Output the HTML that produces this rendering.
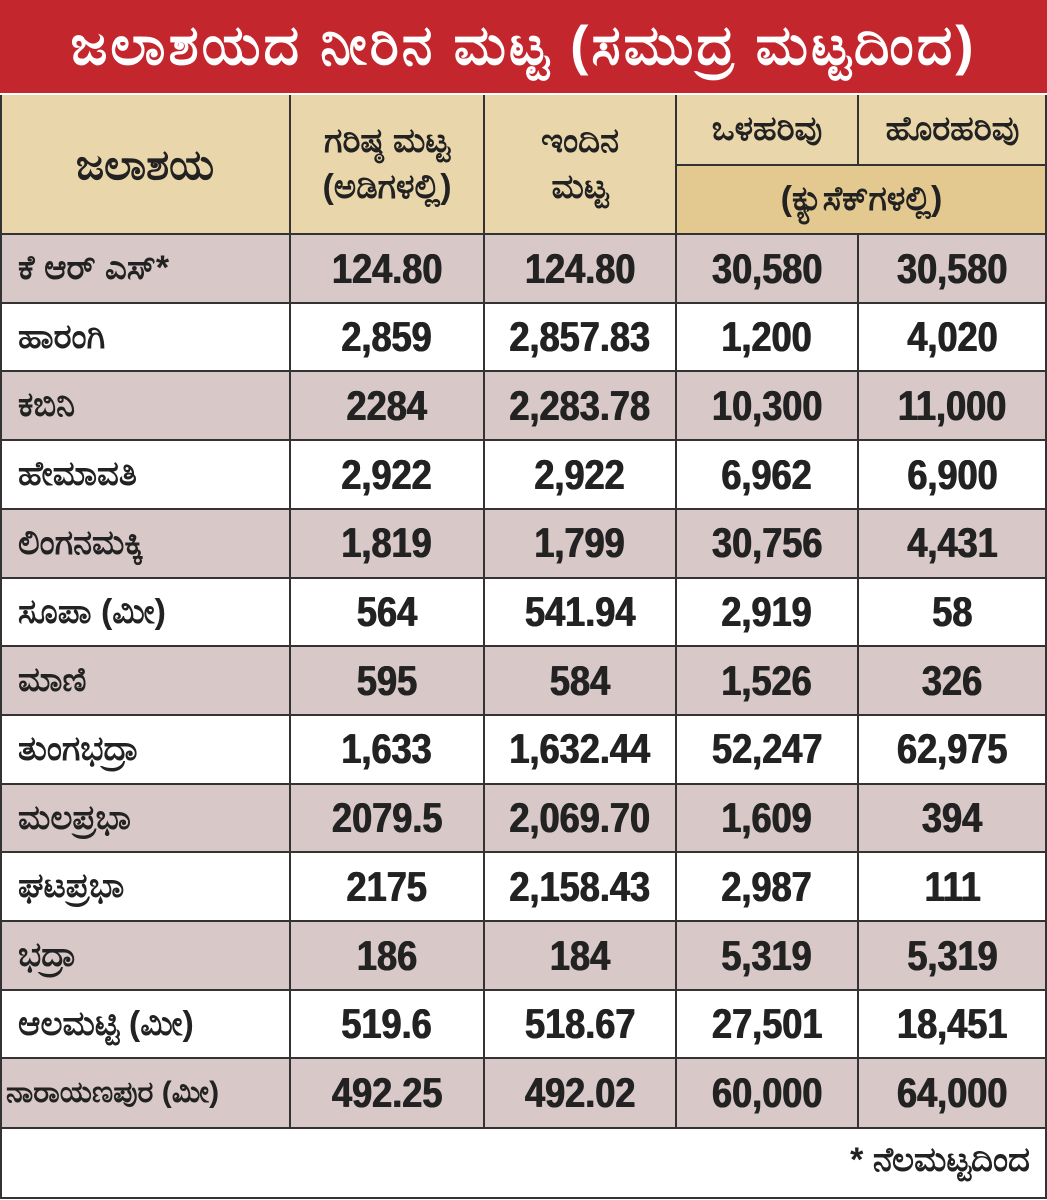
<!DOCTYPE html>
<html><head><meta charset="utf-8"><style>
*{margin:0;padding:0;box-sizing:border-box}
body{width:1047px;height:1200px;background:#fff;position:relative;overflow:hidden;font-family:"Liberation Sans","DejaVu Sans",sans-serif;color:#222}
.t{position:absolute;left:0;top:0;width:1047px;height:93px;background:#c4262e;color:#fff;font-size:55px;font-weight:bold;text-align:center;line-height:90px;letter-spacing:3px;white-space:nowrap}
.b{position:absolute;display:flex;align-items:center;justify-content:center;text-align:center}
.h{font-size:34px;font-weight:bold;line-height:1.35}
.n span{display:inline-block;font-weight:bold;font-size:42px;transform:scaleX(0.86);color:#222;text-shadow:0.6px 0 0 #222,-0.6px 0 0 #222}
.l{justify-content:flex-start;padding-left:18px;font-size:34px;font-weight:bold}
.lv{position:absolute;background:#333;width:2px}
.lh{position:absolute;background:#333;height:2px}
</style></head><body>
<div class="t">ಜಲಾಶಯದ ನೀರಿನ ಮಟ್ಟ (ಸಮುದ್ರ ಮಟ್ಟದಿಂದ)</div>
<div style="position:absolute;left:0;top:95px;width:1047px;height:140px;background:#ead6ab"></div>
<div style="position:absolute;left:676px;top:165px;width:371px;height:70px;background:#e3c98f"></div>
<div class="b h" style="left:0;top:95px;width:290px;height:140px;font-size:42px">ಜಲಾಶಯ</div>
<div class="b h" style="left:290px;top:95px;width:194px;height:140px">ಗರಿಷ್ಠ ಮಟ್ಟ<br>(ಅಡಿಗಳಲ್ಲಿ)</div>
<div class="b h" style="left:484px;top:95px;width:192px;height:140px">ಇಂದಿನ<br>ಮಟ್ಟ</div>
<div class="b h" style="left:676px;top:95px;width:182px;height:70px">ಒಳಹರಿವು</div>
<div class="b h" style="left:858px;top:95px;width:189px;height:70px">ಹೊರಹರಿವು</div>
<div class="b h" style="left:676px;top:165px;width:371px;height:70px">(ಕ್ಯುಸೆಕ್‌ಗಳಲ್ಲಿ)</div>
<div id="rows"></div>
<div class="b" style="left:0;top:1128px;width:1030px;height:64px;justify-content:flex-end;font-size:34px;font-weight:bold">* ನೆಲಮಟ್ಟದಿಂದ</div>
<script>
var d=[["ಕೆ ಆರ್ ಎಸ್*","124.80","124.80","30,580","30,580"],
["ಹಾರಂಗಿ","2,859","2,857.83","1,200","4,020"],
["ಕಬಿನಿ","2284","2,283.78","10,300","11,000"],
["ಹೇಮಾವತಿ","2,922","2,922","6,962","6,900"],
["ಲಿಂಗನಮಕ್ಕಿ","1,819","1,799","30,756","4,431"],
["ಸೂಪಾ (ಮೀ)","564","541.94","2,919","58"],
["ಮಾಣಿ","595","584","1,526","326"],
["ತುಂಗಭದ್ರಾ","1,633","1,632.44","52,247","62,975"],
["ಮಲಪ್ರಭಾ","2079.5","2,069.70","1,609","394"],
["ಘಟಪ್ರಭಾ","2175","2,158.43","2,987","111"],
["ಭದ್ರಾ","186","184","5,319","5,319"],
["ಆಲಮಟ್ಟಿ (ಮೀ)","519.6","518.67","27,501","18,451"],
["ನಾರಾಯಣಪುರ (ಮೀ)","492.25","492.02","60,000","64,000"]];
var xs=[0,290,484,676,858,1047],h="";
d.forEach(function(r,i){var y=234+i*68.7;
h+='<div style="position:absolute;left:0;top:'+y+'px;width:1047px;height:69px;background:'+(i%2?'#fff':'#d8c8c8')+'"></div>';
for(var j=0;j<5;j++){var x=xs[j],w=xs[j+1]-x;
if(j==0)h+='<div class="b l" style="left:0;top:'+y+'px;width:'+w+'px;height:69px;'+(i==12?'padding-left:6px;font-size:30px;':'')+'">'+r[0]+'</div>';
else h+='<div class="b n" style="left:'+x+'px;top:'+y+'px;width:'+w+'px;height:69px"><span>'+r[j]+'</span></div>';}
h+='<div class="lh" style="left:0;top:'+(y-1)+'px;width:1047px"></div>';});
h+='<div class="lh" style="left:0;top:1127px;width:1047px"></div>';
h+='<div class="lh" style="left:0;top:1197px;width:1047px"></div>';
h+='<div class="lh" style="left:676px;top:164px;width:371px"></div>';
h+='<div class="lv" style="left:0;top:95px;height:1104px"></div>';
h+='<div class="lv" style="left:1045px;top:95px;height:1104px"></div>';
[290,484,676].forEach(function(x){h+='<div class="lv" style="left:'+(x-1)+'px;top:95px;height:1033px"></div>';});
h+='<div class="lv" style="left:857px;top:95px;height:70px"></div>';
h+='<div class="lv" style="left:857px;top:234px;height:894px"></div>';
document.getElementById("rows").innerHTML=h;
</script>
</body></html>
